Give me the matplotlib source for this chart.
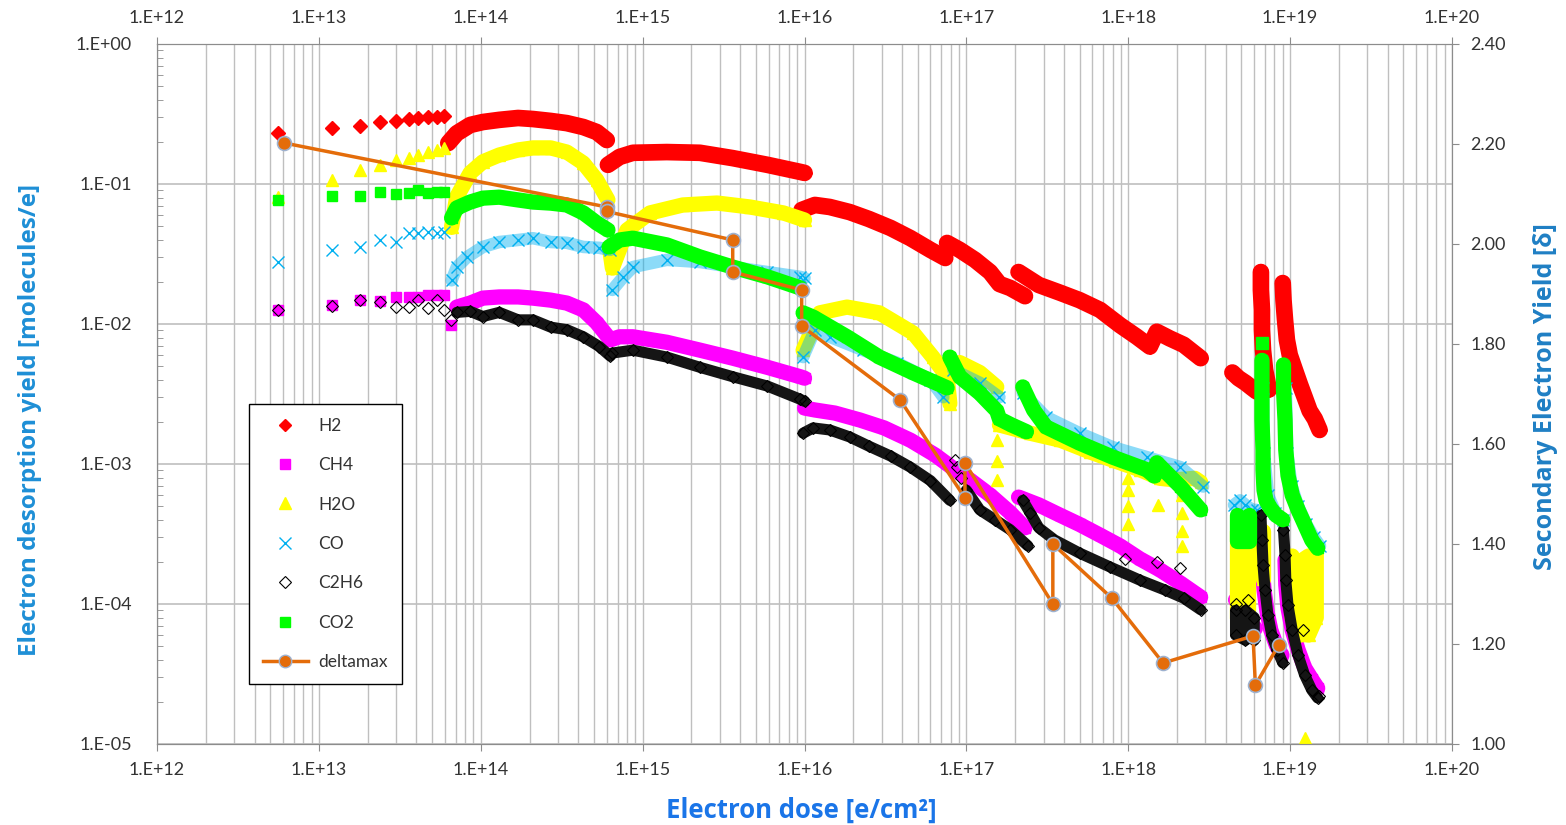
import matplotlib
matplotlib.use("Agg")
import matplotlib.pyplot as plt
import numpy as np
from matplotlib.lines import Line2D
from matplotlib.ticker import FuncFormatter, LogLocator, FixedLocator, NullFormatter

plt.rcParams["font.family"] = ["Lato", "DejaVu Sans"]

# ---- data (dose in e/cm2, yield in molecules/e) ----
# each species is a list of segments; first segment of each is the sparse start
h2_x = [
    [5.6e12, 1.2e13, 1.8e13, 2.4e13, 3.0e13, 3.6e13, 4.1e13, 4.7e13, 5.4e13, 5.9e13],
    [6.3e13, 7.1e13, 8.6e13, 1.03e14, 1.3e14, 1.7e14, 2.1e14, 2.7e14, 3.4e14, 4.3e14, 5.2e14, 6.0e14],
    [6.1e14, 7.2e14, 8.7e14, 1.41e15, 2.26e15, 3.6e15, 5.9e15, 9.4e15, 1.0e16],
    [9.6e15, 1.16e16, 1.43e16, 1.9e16, 2.5e16, 3.4e16, 4.5e16, 6.0e16, 7.4e16],
    [7.6e16, 9.1e16, 1.13e17, 1.4e17, 1.6e17, 1.86e17, 2.3e17],
    [2.1e17, 2.8e17, 3.8e17, 5.0e17, 6.7e17, 8.9e17, 1.13e18, 1.36e18, 1.5e18, 1.8e18, 2.2e18, 2.8e18],
    [4.4e18, 4.8e18, 5.3e18, 5.8e18, 6.2e18],
    [6.6e18, 6.6e18, 6.7e18, 6.7e18, 6.8e18, 7.0e18, 7.4e18],
    [9.0e18, 9.1e18, 9.3e18, 9.55e18, 9.95e18, 1.07e19, 1.15e19, 1.23e19, 1.32e19, 1.42e19, 1.52e19],
]
h2_y = [
    [0.231, 0.251, 0.26, 0.277, 0.282, 0.291, 0.296, 0.301, 0.301, 0.306],
    [0.196, 0.23, 0.264, 0.277, 0.287, 0.296, 0.291, 0.282, 0.272, 0.255, 0.235, 0.206],
    [0.137, 0.156, 0.167, 0.169, 0.167, 0.153, 0.137, 0.122, 0.12],
    [0.0652, 0.0708, 0.0685, 0.063, 0.0562, 0.0485, 0.0411, 0.0338, 0.0296],
    [0.0379, 0.0338, 0.0287, 0.0235, 0.0193, 0.0181, 0.0158],
    [0.0235, 0.019, 0.0167, 0.0148, 0.0126, 0.0098, 0.0081, 0.0069, 0.0088, 0.0079, 0.0071, 0.0057],
    [0.0045, 0.0041, 0.0038, 0.0035, 0.0033],
    [0.0235, 0.0175, 0.0126, 0.0091, 0.0065, 0.0047, 0.0034],
    [0.0196, 0.0148, 0.0107, 0.0077, 0.006, 0.0047, 0.0037, 0.003, 0.0024, 0.0021, 0.00175],
]

ch4_x = [
    [5.6e12, 1.2e13, 1.8e13, 2.4e13, 3.0e13, 3.6e13, 4.1e13, 4.7e13, 5.4e13, 5.9e13, 6.5e13],
    [7.1e13, 8.6e13, 1.03e14, 1.3e14, 1.7e14, 2.1e14, 2.7e14, 3.4e14, 4.3e14, 5.2e14, 6.1e14],
    [6.3e14, 7.2e14, 8.7e14, 1.41e15, 2.26e15, 3.6e15, 5.9e15, 9.4e15, 1.0e16],
    [1.0e16, 1.16e16, 1.54e16, 2.2e16, 3.1e16, 4.5e16, 6.4e16, 8.5e16, 1.05e17, 1.4e17, 1.86e17, 2.3e17],
    [2.1e17, 2.8e17, 3.8e17, 5.0e17, 6.7e17, 8.9e17, 1.18e18, 1.57e18, 2.1e18, 2.8e18],
    [4.6e18, 5.0e18, 5.5e18, 6.1e18],
    [6.6e18, 6.7e18, 6.9e18, 7.2e18, 7.6e18, 8.2e18, 8.9e18],
    [9.3e18, 9.4e18, 9.7e18, 1.03e19, 1.12e19, 1.23e19, 1.36e19, 1.48e19],
]
ch4_y = [
    [0.0126, 0.0137, 0.0149, 0.0145, 0.0155, 0.0155, 0.0157, 0.016, 0.0162, 0.0162, 0.0098],
    [0.0132, 0.0141, 0.0153, 0.0156, 0.0156, 0.0153, 0.0148, 0.0141, 0.0126, 0.0102, 0.0081],
    [0.0077, 0.0081, 0.0081, 0.0074, 0.0065, 0.0057, 0.0049, 0.0042, 0.0041],
    [0.00251, 0.00243, 0.00231, 0.00206, 0.00181, 0.00148, 0.00116, 0.00091, 0.00077, 0.0006, 0.00045, 0.00035],
    [0.00058, 0.00051, 0.00043, 0.00037, 0.00031, 0.00026, 0.00021, 0.000175, 0.000141, 0.000112],
    [0.000107, 9.1e-5, 7.7e-5, 6.7e-5],
    [0.000286, 0.00019, 0.000126, 8.8e-5, 6.5e-5, 5.1e-5, 4.3e-5],
    [0.000206, 0.000137, 9.4e-5, 6.5e-5, 4.7e-5, 3.5e-5, 2.9e-5, 2.5e-5],
]

h2o_x = [
    [5.6e12, 1.2e13, 1.8e13, 2.4e13, 3.0e13, 3.6e13, 4.1e13, 4.7e13, 5.4e13, 5.9e13],
    [6.6e13, 7.1e13, 8.6e13, 1.03e14, 1.3e14, 1.7e14, 2.1e14, 2.7e14, 3.4e14, 4.3e14, 5.2e14, 6.1e14],
    [6.3e14, 6.5e14, 8.0e14, 1.11e15, 1.77e15, 2.88e15, 4.6e15, 7.4e15, 1.0e16],
    [9.8e15, 1.24e16, 1.83e16, 2.9e16, 4.7e16, 6.2e16, 7.6e16, 7.9e16],
    [9.1e16, 1.21e17, 1.54e17],
    [1.6e17, 2.47e17, 3.8e17, 5.8e17, 8.3e17, 1.18e18, 1.57e18, 1.94e18, 2.58e18, 2.8e18],
    [4.7e18, 4.7e18, 4.7e18, 4.7e18, 5.5e18, 5.5e18, 5.5e18, 5.5e18],
    [6.8e18, 6.8e18],
    [1.03e19, 1.03e19, 1.15e19, 1.15e19, 1.3e19, 1.3e19, 1.45e19, 1.45e19],
]
h2o_y = [
    [0.081, 0.107, 0.126, 0.137, 0.148, 0.153, 0.161, 0.169, 0.175, 0.181],
    [0.049, 0.081, 0.12, 0.144, 0.161, 0.175, 0.181, 0.181, 0.169, 0.141, 0.107, 0.077],
    [0.0322, 0.0251, 0.0469, 0.0621, 0.0708, 0.0731, 0.0685, 0.0621, 0.0553],
    [0.0065, 0.012, 0.0132, 0.012, 0.0086, 0.0058, 0.0042, 0.0027],
    [0.0053, 0.0045, 0.00355],
    [0.0019, 0.00166, 0.00148, 0.00122, 0.00105, 0.00091, 0.00079, 0.00077, 0.00079, 0.00074],
    [0.00033, 0.00021, 0.00013, 8.0e-5, 8.0e-5, 0.00013, 0.00021, 0.00033],
    [0.00033, 0.00015],
    [0.00022, 8.0e-5, 6.0e-5, 0.0002, 0.00022, 6.0e-5, 8.0e-5, 0.00024],
]
# isolated H2O triangles (drops below the band)
h2o_drop_x = [1.54e17, 1.54e17, 1.54e17, 1.0e18, 1.0e18, 1.0e18, 1.0e18, 1.52e18,
              2.14e18, 2.14e18, 2.14e18, 2.14e18, 1.23e19]
h2o_drop_y = [0.00148, 0.00105, 0.00077, 0.0008, 0.00065, 0.0005, 0.00037, 0.00051,
              0.0006, 0.00045, 0.00033, 0.00026, 1.1e-5]

co_x = [
    [5.6e12, 1.2e13, 1.8e13, 2.4e13, 3.0e13, 3.6e13, 4.1e13, 4.7e13, 5.4e13, 5.9e13],
    [6.6e13, 7.1e13, 8.2e13, 1.03e14, 1.3e14, 1.7e14, 2.1e14, 2.7e14, 3.4e14, 4.3e14, 5.4e14, 6.3e14],
    [6.5e14, 7.6e14, 8.7e14, 1.41e15, 2.26e15, 3.6e15, 5.9e15, 9.4e15, 1.0e16],
    [9.8e15, 1.16e16, 1.43e16, 2.3e16, 3.7e16, 6.0e16, 7.2e16],
    [8.3e16, 1.21e17, 1.6e17],
    [2.23e17, 3.1e17, 5.0e17, 8.0e17, 1.3e18, 2.1e18, 2.9e18],
    [4.5e18, 4.9e18, 5.3e18, 5.8e18, 6.2e18],
    [6.8e18, 6.9e18, 7.3e18, 8.1e18, 9.1e18],
    [9.4e18, 9.6e18, 1.02e19, 1.12e19, 1.26e19, 1.4e19, 1.53e19],
]
co_y = [
    [0.0277, 0.0338, 0.0355, 0.0398, 0.0385, 0.0447, 0.0447, 0.0454, 0.0447, 0.0454],
    [0.0205, 0.0254, 0.030, 0.0355, 0.0385, 0.0398, 0.041, 0.0385, 0.038, 0.0355, 0.035, 0.0338],
    [0.0175, 0.0217, 0.0255, 0.0287, 0.0277, 0.0255, 0.0235, 0.0217, 0.0213],
    [0.0058, 0.0091, 0.0081, 0.0065, 0.0053, 0.004, 0.003],
    [0.0047, 0.0038, 0.003],
    [0.00321, 0.00217, 0.00166, 0.00132, 0.00112, 0.00095, 0.00069],
    [0.00051, 0.00055, 0.00051, 0.00047, 0.00047],
    [0.0035, 0.0012, 0.0006, 0.00045, 0.0004],
    [0.0035, 0.0012, 0.0007, 0.0005, 0.00037, 0.0003, 0.00026],
]

c2h6_x = [
    [5.6e12, 1.2e13, 1.8e13, 2.4e13, 3.0e13, 3.6e13, 4.1e13, 4.7e13, 5.4e13, 5.9e13, 6.5e13],
    [7.1e13, 8.6e13, 1.03e14, 1.3e14, 1.7e14, 2.1e14, 2.7e14, 3.4e14, 4.3e14, 5.4e14, 6.3e14],
    [6.5e14, 8.7e14, 1.41e15, 2.26e15, 3.6e15, 5.9e15, 9.4e15, 1.0e16],
    [9.8e15, 1.13e16, 1.43e16, 1.9e16, 2.5e16, 3.4e16, 4.5e16, 6.0e16, 7.9e16],
    [1.0e17, 1.21e17, 1.5e17, 1.86e17, 2.4e17],
    [2.23e17, 2.47e17, 2.8e17, 3.5e17, 5.0e17, 7.7e17, 1.18e18, 1.68e18, 2.2e18, 2.8e18],
    [4.6e18, 4.6e18, 5.3e18, 5.3e18, 6.0e18, 6.0e18],
    [6.6e18, 6.7e18, 6.8e18, 7.0e18, 7.3e18, 7.7e18, 8.3e18, 9.0e18],
    [9.1e18, 9.3e18, 9.4e18, 9.7e18, 1.03e19, 1.12e19, 1.23e19, 1.36e19, 1.48e19],
]
c2h6_y = [
    [0.0126, 0.0134, 0.0148, 0.0144, 0.0132, 0.0132, 0.0148, 0.013, 0.0148, 0.0126, 0.0107],
    [0.0121, 0.0123, 0.0113, 0.0121, 0.0107, 0.0107, 0.0095, 0.0091, 0.0081, 0.0069, 0.0059],
    [0.0062, 0.0065, 0.0058, 0.0049, 0.0042, 0.0036, 0.0029, 0.0028],
    [0.00166, 0.00181, 0.00175, 0.00156, 0.00134, 0.00114, 0.00095, 0.00076, 0.00055],
    [0.00065, 0.00047, 0.0004, 0.00034, 0.00026],
    [0.00055, 0.00045, 0.00035, 0.000287, 0.000231, 0.000184, 0.000148, 0.000126, 0.00011, 9.1e-5],
    [9.0e-5, 6.0e-5, 5.5e-5, 9.0e-5, 8.0e-5, 5.5e-5],
    [0.00043, 0.000286, 0.00019, 0.000126, 8.3e-5, 6.0e-5, 4.7e-5, 3.8e-5],
    [0.00034, 0.000224, 0.000148, 9.8e-5, 6.5e-5, 4.3e-5, 3.1e-5, 2.43e-5, 2.13e-5],
]
# isolated C2H6 diamonds
c2h6_odd_x = [8.5e16, 8.8e16, 9.2e16, 9.5e17, 1.5e18, 2.1e18, 4.6e18, 5.5e18, 1.2e19, 1.5e19]
c2h6_odd_y = [0.00107, 0.00095, 0.0008, 0.00021, 0.0002, 0.00018, 0.0001, 0.000107, 6.5e-5, 2.2e-5]

co2_x = [
    [5.6e12, 1.2e13, 1.8e13, 2.4e13, 3.0e13, 3.6e13, 4.1e13, 4.7e13, 5.4e13, 5.9e13],
    [6.6e13, 7.1e13, 8.6e13, 1.03e14, 1.3e14, 1.7e14, 2.1e14, 2.7e14, 3.4e14, 4.3e14, 5.2e14, 6.1e14],
    [6.2e14, 7.2e14, 8.7e14, 1.41e15, 2.26e15, 3.6e15, 5.9e15, 9.4e15],
    [9.8e15, 1.13e16, 1.83e16, 2.9e16, 4.7e16, 7.6e16],
    [7.9e16, 9.1e16, 1.21e17, 1.54e17, 1.6e17, 1.9e17, 2.35e17],
    [2.23e17, 2.6e17, 3.1e17, 5.0e17, 8.0e17, 1.3e18, 1.45e18, 1.5e18, 2.1e18, 2.8e18],
    [4.7e18, 4.7e18, 5.6e18, 5.6e18],
    [6.7e18, 6.7e18, 6.7e18, 6.8e18, 6.8e18, 6.9e18, 7.1e18, 7.5e18, 8.2e18, 9.0e18],
    [9.1e18, 9.1e18, 9.3e18, 9.4e18, 9.7e18, 1.03e19, 1.12e19, 1.23e19, 1.36e19, 1.48e19],
]
co2_y = [
    [0.0769, 0.082, 0.082, 0.0877, 0.0849, 0.0863, 0.0906, 0.0863, 0.0877, 0.0877],
    [0.0572, 0.0674, 0.0743, 0.0792, 0.0805, 0.0769, 0.0743, 0.073, 0.0708, 0.0621, 0.0527, 0.0469],
    [0.0355, 0.0398, 0.041, 0.0367, 0.0301, 0.0255, 0.0217, 0.0181],
    [0.012, 0.0112, 0.0081, 0.0058, 0.00447, 0.0035],
    [0.0058, 0.0042, 0.0032, 0.0024, 0.0021, 0.0019, 0.0017],
    [0.00355, 0.00243, 0.00184, 0.00141, 0.00112, 0.00091, 0.00082, 0.00102, 0.00069, 0.00047],
    [0.00043, 0.00028, 0.00028, 0.00043],
    [0.0055, 0.0034, 0.00206, 0.00126, 0.00091, 0.00065, 0.00055, 0.00049, 0.00043, 0.0004],
    [0.0051, 0.0034, 0.00206, 0.00126, 0.00083, 0.0006, 0.00047, 0.00037, 0.000286, 0.00025],
]
co2_top_x = [6.7e18]
co2_top_y = [0.0073]

# deltamax on the secondary axis
delta_x = [6.1e12, 6.0e14, 6.0e14, 3.6e15, 3.6e15, 9.6e15, 9.6e15, 3.9e16, 9.8e16, 9.8e16,
           3.42e17, 3.42e17, 7.9e17, 1.64e18, 5.9e18, 6.1e18, 8.5e18]
delta_y = [2.202, 2.074, 2.065, 2.008, 1.944, 1.908, 1.836, 1.688, 1.492, 1.562,
           1.28, 1.40, 1.292, 1.162, 1.216, 1.118, 1.198]

x_ticks = [1e12, 1e13, 1e14, 1e15, 1e16, 1e17, 1e18, 1e19, 1e20]
y_ticks = [1e-5, 1e-4, 1e-3, 1e-2, 1e-1, 1e0]
y2_ticks = [1.0, 1.2, 1.4, 1.6, 1.8, 2.0, 2.2, 2.4]


def draw_species(ax, xs, ys, color, marker, ms, lw, z, mfc=None, mew=1.0, band_color=None, band_alpha=1.0):
    """First segment is sparse (markers only), the rest get a band behind the markers."""
    for i, (x, y) in enumerate(zip(xs, ys)):
        if i > 0 and len(x) > 1:
            ax.plot(x, y, color=band_color or color, lw=lw, alpha=band_alpha,
                    solid_joinstyle="round", solid_capstyle="round", zorder=z)
        ax.plot(x, y, ls="none", marker=marker, ms=ms, color=color,
                mfc=mfc if mfc is not None else color, mec=color, mew=mew, zorder=z + 0.1)


fig = plt.figure(figsize=(15.66, 8.25), dpi=100)
ax = fig.add_axes([0.1003, 0.0982, 0.8269, 0.8485])

grid_c = "#BFBFBF"
spine_c = "#8C8C8C"
text_c = "#333333"

draw_species(ax, h2_x, h2_y, "#FF0000", "D", 7.5, 12, 3)
draw_species(ax, ch4_x, ch4_y, "#FF00FF", "s", 7, 11, 4)
draw_species(ax, h2o_x, h2o_y, "#FFFF00", "^", 8, 11, 5)
ax.plot(h2o_drop_x, h2o_drop_y, ls="none", marker="^", ms=8, color="#FFFF00", zorder=5.1)
draw_species(ax, co_x, co_y, "#00B0F0", "x", 8, 9, 6, mew=1.0, band_alpha=0.45)
draw_species(ax, c2h6_x, c2h6_y, "black", "D", 6, 8, 7, mfc="none", mew=0.8, band_color="#151515")
ax.plot(c2h6_odd_x, c2h6_odd_y, ls="none", marker="D", ms=6, mfc="none", mec="black", mew=0.8, zorder=7.1)
draw_species(ax, co2_x, co2_y, "#00FF00", "s", 7.5, 11, 8)
ax.plot(co2_top_x, co2_top_y, ls="none", marker="s", ms=8, color="#00FF00", zorder=8.1)

ax.set_xscale("log")
ax.set_yscale("log")
ax.set_xlim(1e12, 1e20)
ax.set_ylim(1e-5, 1e0)

exp_fmt = FuncFormatter(lambda v, _: "1.E{:+03d}".format(int(round(np.log10(v)))))
ax.xaxis.set_major_locator(FixedLocator(x_ticks))
ax.xaxis.set_minor_locator(LogLocator(base=10, subs=np.arange(2, 10), numticks=100))
ax.xaxis.set_major_formatter(exp_fmt)
ax.xaxis.set_minor_formatter(NullFormatter())
ax.yaxis.set_major_locator(FixedLocator(y_ticks))
ax.yaxis.set_minor_locator(LogLocator(base=10, subs=np.arange(2, 10), numticks=100))
ax.yaxis.set_major_formatter(exp_fmt)
ax.yaxis.set_minor_formatter(NullFormatter())

ax.grid(True, which="both", axis="x", color=grid_c, lw=1.0, zorder=0)
ax.grid(True, which="major", axis="y", color=grid_c, lw=1.2, zorder=0)
ax.set_axisbelow(True)

ax.tick_params(axis="x", which="major", bottom=True, top=True, labelbottom=True, labeltop=True,
               direction="out", length=5, color=spine_c, labelsize=13, labelcolor=text_c, pad=8)
ax.tick_params(axis="x", which="minor", length=0)
ax.tick_params(axis="y", which="major", direction="out", length=0, labelsize=13, labelcolor=text_c, pad=18)
ax.tick_params(axis="y", which="minor", direction="in", length=4, color=spine_c)
for s in ax.spines.values():
    s.set_color(spine_c)

ax2 = ax.twinx()
ax2.set_ylim(1.0, 2.4)
ax2.yaxis.set_major_locator(FixedLocator(y2_ticks))
ax2.yaxis.set_major_formatter(FuncFormatter(lambda v, _: "{:.2f}".format(v)))
ax2.tick_params(axis="y", direction="out", length=5, color=spine_c, labelsize=13, labelcolor=text_c, pad=8)
for s in ax2.spines.values():
    s.set_color(spine_c)

ax2.plot(delta_x, delta_y, color="#E46C0A", lw=2.5, marker="o", ms=10,
         mfc="#E46C0A", mec="#9DB1CF", mew=1.2, zorder=10)

handles = [
    Line2D([], [], ls="none", marker="D", ms=6, color="#FF0000"),
    Line2D([], [], ls="none", marker="s", ms=7, color="#FF00FF"),
    Line2D([], [], ls="none", marker="^", ms=8, color="#FFFF00"),
    Line2D([], [], ls="none", marker="x", ms=9, color="#00B0F0", mew=1.0),
    Line2D([], [], ls="none", marker="D", ms=6, mfc="none", mec="black", mew=0.8),
    Line2D([], [], ls="none", marker="s", ms=7, color="#00FF00"),
    Line2D([], [], color="#E46C0A", lw=2.5, marker="o", ms=9, mfc="#E46C0A", mec="#9DB1CF"),
]
labels = ["H2", "CH4", "H2O", "CO", "C2H6", "CO2", "deltamax"]
leg = ax2.legend(handles, labels, loc="upper left", bbox_to_anchor=(0.071, 0.486), borderaxespad=0,
                 fontsize=12.5, labelspacing=1.35, handlelength=2.6, handletextpad=0.6,
                 borderpad=0.8, fancybox=False, framealpha=1, edgecolor="black")
leg.get_frame().set_linewidth(1.0)
for t in leg.get_texts():
    t.set_color(text_c)

label_font = ["Open Sans", "DejaVu Sans"]
fig.text(0.0192, 0.491, "Electron desorption yield [molecules/e]", rotation=90, ha="center", va="center",
         fontsize=17.5, fontweight="bold", color="#1E8FD6", family=label_font)
fig.text(0.512, 0.018, "Electron dose [e/cm²]", ha="center", va="center",
         fontsize=18.5, fontweight="bold", color="#1A75E8", family=label_font)
fig.text(0.9866, 0.519, "Secondary Electron Yield [δ]", rotation=90, ha="center", va="center",
         fontsize=18, fontweight="bold", color="#1F7FC4", family=label_font)

fig.savefig("out.png", dpi=100)
